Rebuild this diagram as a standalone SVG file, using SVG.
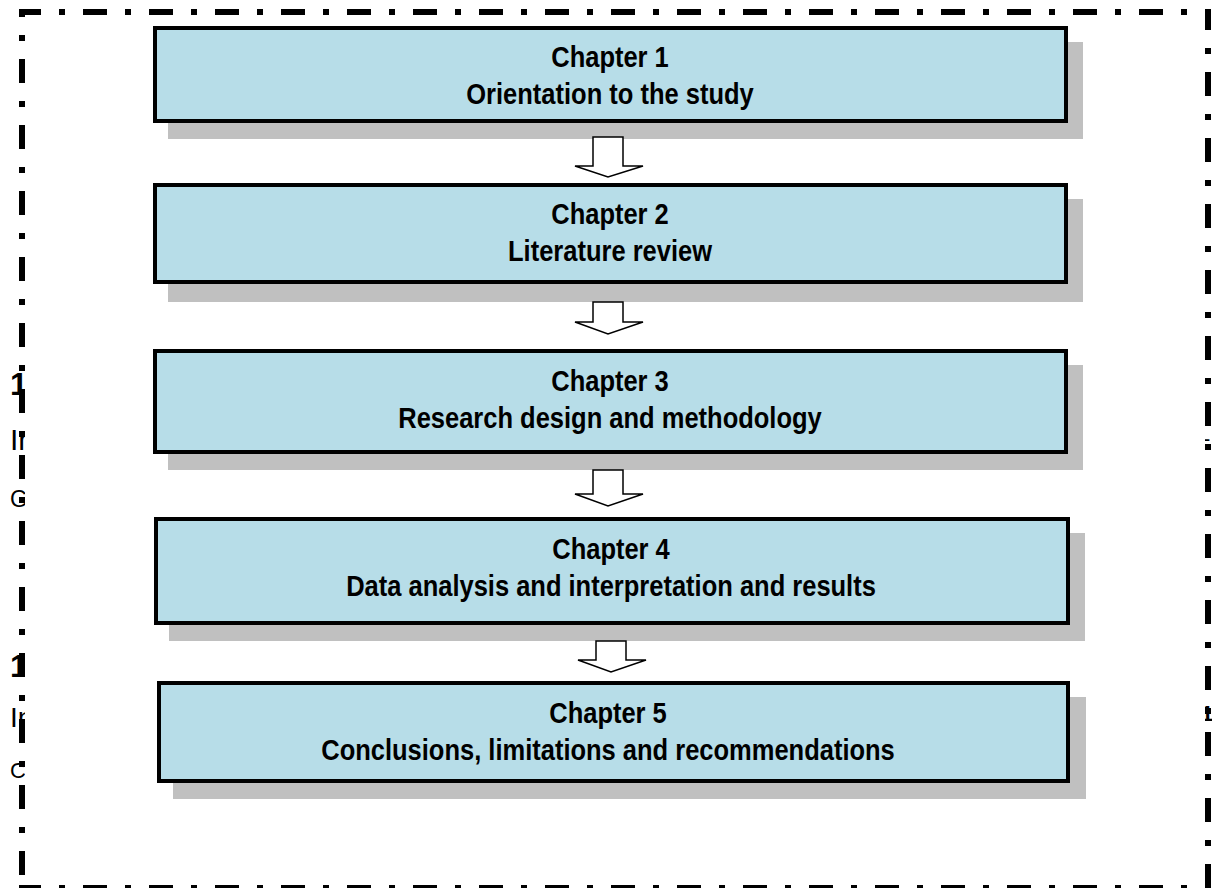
<svg xmlns="http://www.w3.org/2000/svg" width="1212" height="888" viewBox="0 0 1212 888">
<style>
.box{fill:#b7dde8;stroke:#000;stroke-width:4}
.sh{fill:#c0c0c0}
.t{font-family:"Liberation Sans",Arial,sans-serif;font-weight:bold;font-size:30px;fill:#000;text-anchor:middle}
.arr{fill:#fff;stroke:#000;stroke-width:1.5;stroke-linejoin:miter}
.brd{fill:none;stroke:#000;stroke-width:6;stroke-dasharray:24 18 6 18}
.fr{font-family:"Liberation Sans",Arial,sans-serif;fill:#000}
</style>
<defs>
<clipPath id="cl"><rect x="0" y="0" width="25" height="888"/></clipPath>
<clipPath id="cr"><rect x="1205" y="0" width="7" height="888"/></clipPath>
</defs>
<rect width="1212" height="888" fill="#fff"/>
<g id="fragments">
<g clip-path="url(#cl)">
<text class="fr" x="10" y="395" font-size="32" font-weight="bold">1</text>
<text class="fr" x="10" y="450" font-size="30">In</text>
<text class="fr" x="10" y="507" font-size="23">Ge</text>
<text class="fr" x="10" y="677" font-size="32" font-weight="bold">1</text>
<text class="fr" x="10" y="727" font-size="28">In</text>
<text class="fr" x="10" y="778" font-size="22">Co</text>
</g>
<g clip-path="url(#cr)">
<text class="fr" x="1201" y="721" font-size="22" font-weight="bold">1</text>
<text class="fr" x="1203" y="446" font-size="22">-</text>
</g>
</g>
<g id="frame">
<line class="brd" x1="19" y1="12" x2="1211" y2="12" stroke-dashoffset="2"/>
<line class="brd" x1="22" y1="9" x2="22" y2="888" stroke-dashoffset="16"/>
<line class="brd" x1="1208" y1="9" x2="1208" y2="888" stroke-dashoffset="3"/>
<line class="brd" x1="19" y1="888" x2="1211" y2="888" stroke-dashoffset="2"/>
</g>
<g id="chapter1">
<rect class="sh" x="168" y="42" width="915" height="97"/>
<rect class="box" x="155" y="28" width="911" height="93"/>
<text class="t" transform="translate(610 0) scale(0.85 1)" x="0" y="67">Chapter 1</text>
<text class="t" transform="translate(610 0) scale(0.85 1)" x="0" y="104">Orientation to the study</text>
</g>
<g id="chapter2">
<rect class="sh" x="168" y="199" width="915" height="103"/>
<rect class="box" x="155" y="185" width="911" height="97"/>
<text class="t" transform="translate(610 0) scale(0.85 1)" x="0" y="224">Chapter 2</text>
<text class="t" transform="translate(610 0) scale(0.85 1)" x="0" y="261">Literature review</text>
</g>
<g id="chapter3">
<rect class="sh" x="168" y="365" width="915" height="105"/>
<rect class="box" x="155" y="351" width="911" height="101"/>
<text class="t" transform="translate(610 0) scale(0.85 1)" x="0" y="391">Chapter 3</text>
<text class="t" transform="translate(610 0) scale(0.85 1)" x="0" y="428">Research design and methodology</text>
</g>
<g id="chapter4">
<rect class="sh" x="169" y="533" width="916" height="108"/>
<rect class="box" x="156" y="519" width="912" height="104"/>
<text class="t" transform="translate(611 0) scale(0.85 1)" x="0" y="559">Chapter 4</text>
<text class="t" transform="translate(611 0) scale(0.85 1)" x="0" y="596">Data analysis and interpretation and results</text>
</g>
<g id="chapter5">
<rect class="sh" x="173" y="697" width="913" height="102"/>
<rect class="box" x="159" y="683" width="909" height="98"/>
<text class="t" transform="translate(608 0) scale(0.85 1)" x="0" y="723">Chapter 5</text>
<text class="t" transform="translate(608 0) scale(0.85 1)" x="0" y="760">Conclusions, limitations and recommendations</text>
</g>
<g id="connectors">
<path class="arr" d="M593,137 L623,137 L623,166 L643,166 L608,177 L575,166 L593,166 Z"/>
<path class="arr" d="M593,302 L623,302 L623,322 L643,322 L608,334 L575,322 L593,322 Z"/>
<path class="arr" d="M593,470 L623,470 L623,494 L643,494 L608,506 L575,494 L593,494 Z"/>
<path class="arr" d="M596,641 L626,641 L626,660 L646,660 L611,672 L578,660 L596,660 Z"/>
</g>
</svg>
